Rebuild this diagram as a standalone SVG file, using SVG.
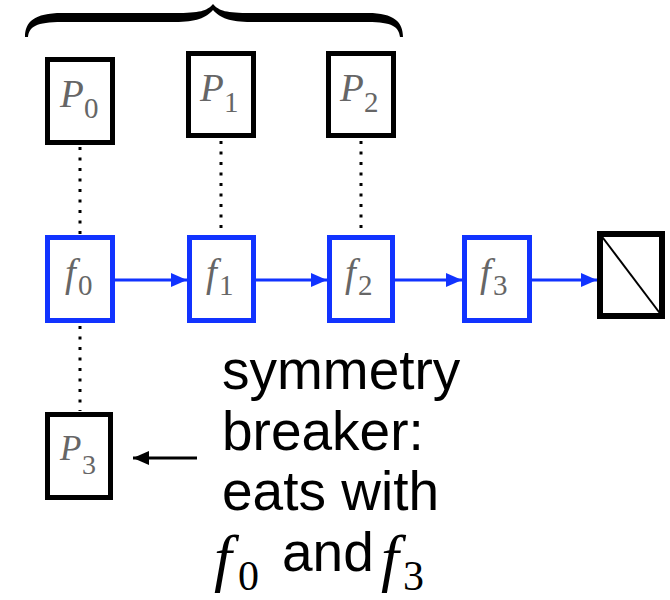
<svg xmlns="http://www.w3.org/2000/svg" width="670" height="600" viewBox="0 0 670 600">
<style>
.pbox{fill:#fff;stroke:#000;stroke-width:5}
.fbox{fill:#fff;stroke:#1133ff;stroke-width:5}
.lbl{font-family:"Liberation Serif","Times New Roman",serif;fill:#666;font-style:italic}
.sub{font-family:"Liberation Serif","Times New Roman",serif;fill:#666;font-style:normal}
.dot{stroke:#000;stroke-width:3;stroke-dasharray:3 7.5;fill:none}
.barrow{stroke:#1133ff;stroke-width:3;fill:none}
.txt{font-family:"Liberation Sans",Arial,Helvetica,sans-serif;font-size:55px;fill:#000}
.math{font-family:"Liberation Serif","Times New Roman",serif;fill:#000}
</style>
<defs>
<marker id="ab" markerWidth="16" markerHeight="14" refX="16" refY="7" orient="auto" markerUnits="userSpaceOnUse"><path d="M0,0 L16,7 L0,14 Z" fill="#1133ff"/></marker>
<marker id="ak" markerWidth="16" markerHeight="14" refX="16" refY="7" orient="auto" markerUnits="userSpaceOnUse"><path d="M0,0 L16,7 L0,14 Z" fill="#000"/></marker>
</defs>
<g id="brace">
<path d="M25,37 C25,22 34,13 62,13 L175,13 C200,13 207,11 213,4 C219,11 226,13 251,13 L368,13 C394,13 403,22 403,37 L400,37 C399,27 392,22 368,22 L251,22 C230,22 220,18 213,10 C206,18 196,22 175,22 L62,22 C36,22 29,27 28,37 Z" fill="#000"/>
</g>
<g id="connectors">
<line class="dot" x1="80" y1="147" x2="80" y2="234"/>
<line class="dot" x1="221" y1="141" x2="221" y2="234"/>
<line class="dot" x1="361" y1="141" x2="361" y2="234"/>
<line class="dot" x1="80" y1="326" x2="80" y2="411"/>
<line class="barrow" x1="115" y1="280" x2="187" y2="280" marker-end="url(#ab)"/>
<line class="barrow" x1="256" y1="280" x2="327" y2="280" marker-end="url(#ab)"/>
<line class="barrow" x1="395" y1="280" x2="462" y2="280" marker-end="url(#ab)"/>
<line class="barrow" x1="532" y1="280" x2="597" y2="280" marker-end="url(#ab)"/>
<line x1="197" y1="458" x2="133" y2="458" stroke="#000" stroke-width="3" marker-end="url(#ak)"/>
</g>
<g id="P0">
<rect class="pbox" x="47.5" y="59.5" width="65" height="83"/>
<text class="lbl" x="60" y="107" font-size="39">P</text><text class="sub" x="84" y="118" font-size="29">0</text>
</g>
<g id="P1">
<rect class="pbox" x="188.5" y="53.5" width="65" height="82"/>
<text class="lbl" x="200" y="101" font-size="39">P</text><text class="sub" x="224" y="112" font-size="29">1</text>
</g>
<g id="P2">
<rect class="pbox" x="328.5" y="53.5" width="65" height="82"/>
<text class="lbl" x="340" y="101" font-size="39">P</text><text class="sub" x="364" y="112" font-size="29">2</text>
</g>
<g id="P3">
<rect class="pbox" x="47.5" y="414.5" width="63" height="83"/>
<text class="lbl" x="60" y="460" font-size="35">P</text><text class="sub" x="82" y="474" font-size="28">3</text>
</g>
<g id="f0">
<rect class="fbox" x="47.5" y="237.5" width="65" height="83"/>
<text class="lbl" x="65" y="286" font-size="39">f</text><text class="sub" x="78" y="295" font-size="29">0</text>
</g>
<g id="f1">
<rect class="fbox" x="189.5" y="237.5" width="64" height="83"/>
<text class="lbl" x="206" y="286" font-size="39">f</text><text class="sub" x="219" y="295" font-size="29">1</text>
</g>
<g id="f2">
<rect class="fbox" x="329.5" y="237.5" width="63" height="83"/>
<text class="lbl" x="345" y="286" font-size="39">f</text><text class="sub" x="358" y="295" font-size="29">2</text>
</g>
<g id="f3">
<rect class="fbox" x="464.5" y="237.5" width="65" height="83"/>
<text class="lbl" x="480" y="286" font-size="39">f</text><text class="sub" x="493" y="295" font-size="29">3</text>
</g>
<g id="end">
<rect x="600" y="234" width="62" height="82" fill="#fff" stroke="#000" stroke-width="6"/>
<line x1="600" y1="234" x2="662" y2="316" stroke="#000" stroke-width="2"/>
</g>
<g id="note">
<text class="txt" x="222" y="389">symmetry</text>
<text class="txt" x="222" y="450">breaker:</text>
<text class="txt" x="222" y="510">eats with</text>
<text class="math" x="214" y="579" font-size="64" font-style="italic">f</text>
<text class="math" x="238" y="590" font-size="42">0</text>
<text class="txt" x="282" y="571">and</text>
<text class="math" x="381" y="579" font-size="64" font-style="italic">f</text>
<text class="math" x="403" y="590" font-size="42">3</text>
</g>
</svg>
